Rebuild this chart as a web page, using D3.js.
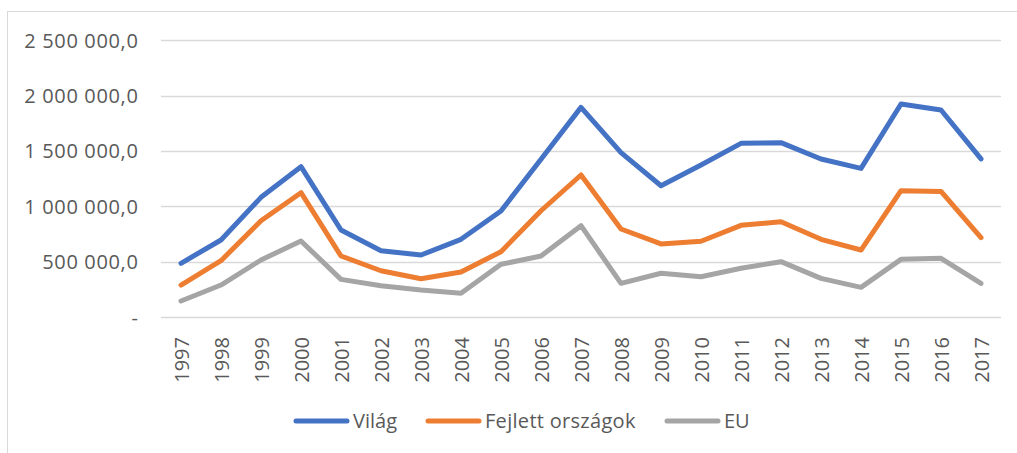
<!DOCTYPE html>
<html>
<head>
<meta charset="utf-8">
<script src="https://cdn.jsdelivr.net/npm/d3@7"></script>
<style>
  body { margin: 0; background: #fff; }
  text { font-family: "Open Sans", sans-serif; fill: #595959; }
</style>
</head>
<body>
<div id="chart"></div>
<script>
// years on the x axis
const years = ['1997','1998','1999','2000','2001','2002','2003','2004','2005','2006','2007',
  '2008','2009','2010','2011','2012','2013','2014','2015','2016','2017'];

// values
const vilag = [485000, 696000, 1081000, 1358000, 786000, 599000, 560000, 702000, 958000, 1425000, 1894000,
  1485000, 1186000, 1373000, 1569000, 1575000, 1428000, 1343000, 1924000, 1870000, 1428000];
const fejlett = [289000, 509000, 870000, 1123000, 551000, 418000, 346000, 407000, 590000, 960000, 1283000,
  795000, 660000, 684000, 828000, 861000, 702000, 605000, 1141000, 1135000, 717000];
const eu = [145000, 289000, 515000, 687000, 340000, 283000, 244000, 214000, 476000, 551000, 825000,
  304000, 395000, 364000, 440000, 500000, 349000, 268000, 521000, 530000, 304000];

const seriesNames = ['Világ', 'Fejlett országok', 'EU'];
const yTicks = [0, 500000, 1000000, 1500000, 2000000, 2500000];

const colors = ['#4472C4', '#ED7D31', '#A5A5A5'];
const allSeries = [vilag, fejlett, eu];

const w = 1017, h = 453;
const fontSize = '20px';
const svg = d3.select('#chart').append('svg')
  .attr('width', w)
  .attr('height', h);

// outer chart border
svg.append('rect')
  .attr('x', 7.5).attr('y', 11.5)
  .attr('width', w + 10).attr('height', h + 10)
  .style('fill', 'none')
  .style('stroke', '#d9d9d9')
  .style('stroke-width', '1px');

const x = d3.scaleBand().domain(years).range([161, 1001]);
const y = d3.scaleLinear().domain([0, 2500000]).range([317, 40.3]);

const loc = d3.formatLocale({decimal: ',', thousands: '\u00a0', grouping: [3], currency: ['', '']});
const fmt = loc.format(',.1f');

// gridlines
svg.append('g')
  .selectAll('line')
  .data(yTicks)
  .enter()
  .append('line')
  .attr('x1', 161).attr('x2', 1001)
  .attr('y1', d => Math.round(y(d)) + 0.5)
  .attr('y2', d => Math.round(y(d)) + 0.5)
  .style('stroke', '#d9d9d9')
  .style('stroke-width', '1.5px');

// y axis labels
const yAxis = d3.axisLeft(y)
  .tickValues(yTicks)
  .tickSize(0)
  .tickPadding(0)
  .tickFormat(d => d === 0 ? '-' : fmt(d));

svg.append('g')
  .attr('transform', 'translate(138.5,0)')
  .call(yAxis)
  .call(g => g.select('.domain').remove())
  .selectAll('text')
  .style('font-size', fontSize)
  .style('letter-spacing', '0.65px')
  .style('font-family', '"Open Sans", sans-serif')
  .style('fill', '#595959')
  .attr('dy', '0.35em');

// x axis labels, rotated
const xAxis = d3.axisBottom(x).tickSize(0).tickPadding(0);
svg.append('g')
  .attr('transform', 'translate(1,337)')
  .call(xAxis)
  .call(g => g.select('.domain').remove())
  .selectAll('text')
  .style('font-size', fontSize)
  .style('font-family', '"Open Sans", sans-serif')
  .style('fill', '#595959')
  .attr('transform', 'rotate(-90)')
  .attr('text-anchor', 'end')
  .attr('x', 0)
  .attr('y', 0)
  .attr('dy', '0.35em');

// lines
const line = d3.line()
  .x((d, i) => x(years[i]) + x.bandwidth() / 2)
  .y(d => y(d));

svg.append('g')
  .selectAll('path')
  .data(allSeries)
  .enter()
  .append('path')
  .attr('d', line)
  .style('fill', 'none')
  .style('stroke', (d, i) => colors[i])
  .style('stroke-width', '5px')
  .style('stroke-linejoin', 'round')
  .style('stroke-linecap', 'round');

// legend
const legendX = [296, 428, 667];
const legend = svg.append('g');
seriesNames.forEach(function(name, i){
  legend.append('line')
    .attr('x1', legendX[i]).attr('x2', legendX[i] + 51)
    .attr('y1', 421).attr('y2', 421)
    .style('stroke', colors[i])
    .style('stroke-width', '5px')
    .style('stroke-linecap', 'round');
  legend.append('text')
    .attr('x', legendX[i] + 57)
    .attr('y', 421)
    .attr('dy', '0.35em')
    .style('font-size', fontSize)
    .style('letter-spacing', i === 1 ? '0.3px' : '0px')
    .text(name);
});
</script>
</body>
</html>
